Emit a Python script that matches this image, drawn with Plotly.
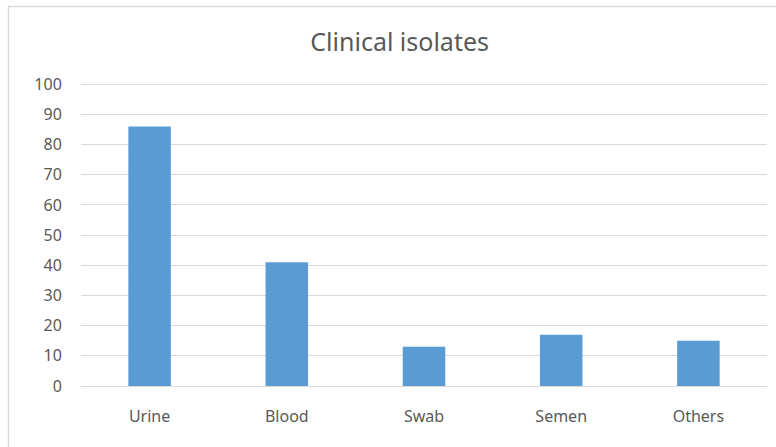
import plotly.graph_objects as go

categories = ["Urine", "Blood", "Swab", "Semen", "Others"]
values = [86, 41, 13, 17, 15]
y_ticks = [0, 10, 20, 30, 40, 50, 60, 70, 80, 90, 100]

W, H = 776, 447
L, R, T, B = 81, 9, 83, 61
pw, ph = W - L - R, H - T - B

fig = go.Figure(go.Bar(x=categories, y=values, marker=dict(color="#5B9BD5", line=dict(width=0)), width=0.31))

def px_x(p):
    return (p - L) / pw

def px_y(p):
    return 1 - (p - T) / ph

fig.add_shape(type="rect", xref="paper", yref="paper",
              x0=px_x(8.5), x1=px_x(790), y0=px_y(6.5), y1=px_y(460),
              line=dict(color="#d9d9d9", width=1.5), fillcolor="rgba(0,0,0,0)", layer="below")

fig.update_layout(
    width=W, height=H,
    margin=dict(l=L, r=R, t=T, b=B),
    paper_bgcolor="white", plot_bgcolor="white",
    title=dict(text="Clinical isolates", x=0.515, xanchor="center", y=1 - 42 / H, yanchor="middle",
               yref="container", font=dict(family="Noto Sans", size=25, color="#595959")),
    font=dict(family="Noto Sans", size=16, color="#595959"),
    showlegend=False,
    bargap=0.69,
)
fig.update_yaxes(range=[0, 100.4], tickvals=y_ticks, showgrid=True, gridcolor="#d9d9d9", gridwidth=1,
                 zeroline=False, showline=False, ticks="outside", ticklen=15, tickcolor="rgba(0,0,0,0)",
                 tickfont=dict(family="Noto Sans", size=16, color="#595959"))
fig.update_xaxes(showline=True, linecolor="#d9d9d9", linewidth=1, ticks="outside", ticklen=16,
                 tickcolor="rgba(0,0,0,0)", tickfont=dict(family="Noto Sans", size=16, color="#595959"))

fig.write_html("out.html", config={"displayModeBar": False},
               post_script="document.body.style.margin='0';document.body.style.overflow='hidden';")
